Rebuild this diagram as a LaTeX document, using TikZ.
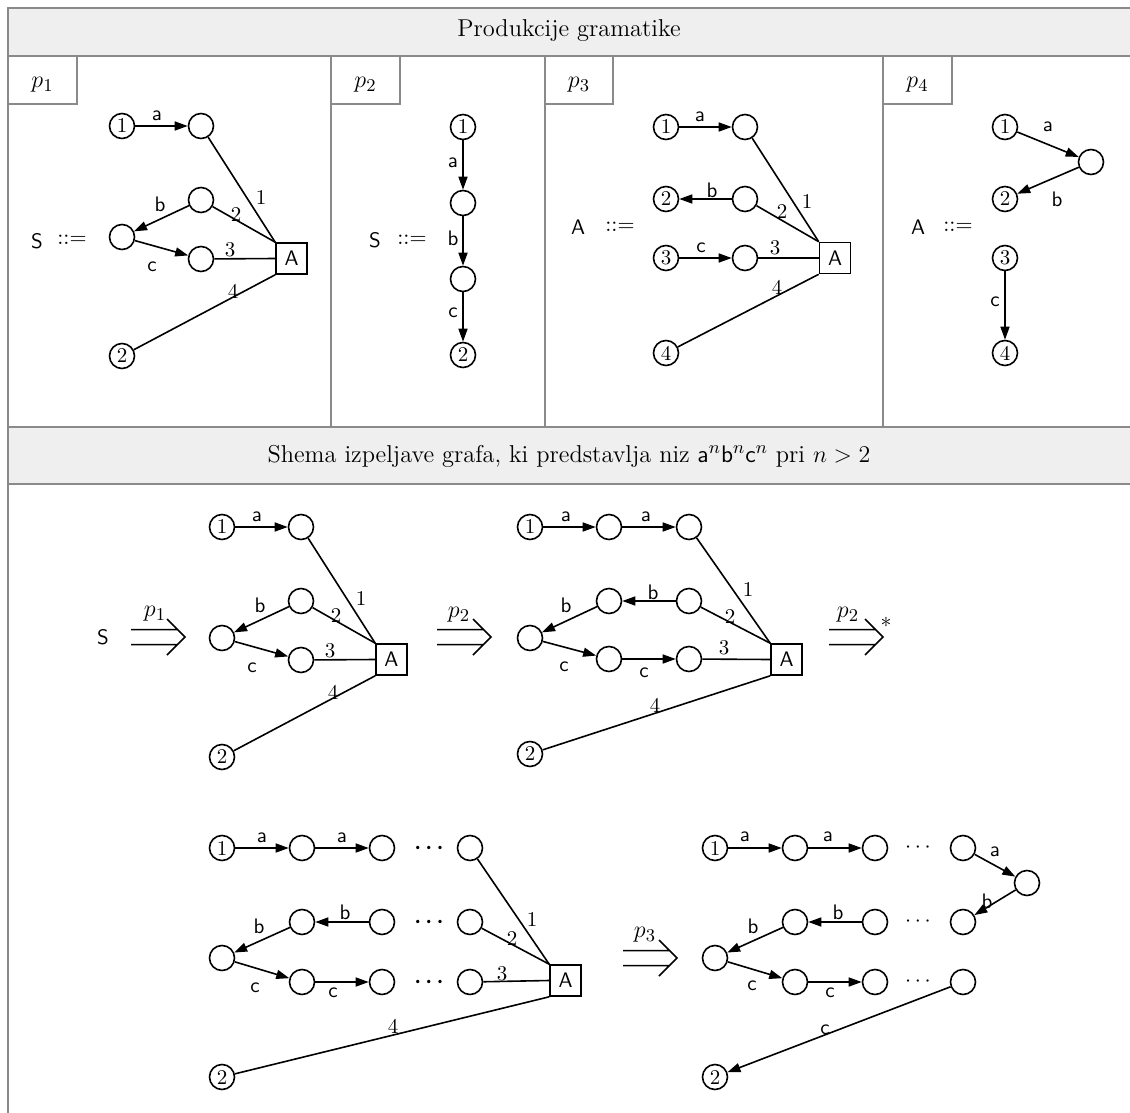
\documentclass[tikz,border=0pt]{standalone}
\usetikzlibrary{arrows.meta}
\definecolor{frm}{RGB}{138,138,138}
\definecolor{hdfill}{RGB}{239,239,239}
\newcommand\lab{\fontsize{10.5}{12}\selectfont}
\newcommand\headfont{\fontsize{12.2}{14}\selectfont}
\tikzset{
  v/.style={circle,draw,line width=0.8pt,minimum size=12.5pt,inner sep=0pt,font=\lab},
  box/.style={draw,line width=0.8pt,minimum size=15.5pt,inner sep=0pt,font=\lab\sffamily},
  arr/.style={line width=0.8pt,-{Triangle[length=6.5pt,width=4.5pt]}},
  ln/.style={line width=0.8pt},
  sl/.style={font=\lab\sffamily,inner sep=0pt},
  nl/.style={font=\lab,inner sep=0pt},
  bd/.style={font=\lab\boldmath,inner sep=0pt},
  fr/.style={draw=frm,line width=0.7pt},
  dbl/.style={line width=0.75pt,line join=miter},
  hd/.style={font=\headfont,inner sep=0pt}
}
\newcommand\dblarr[3]{\draw[dbl] (#1,#3-7.5) -- (#2-8,#3-7.5) (#1,#3+7.5) -- (#2-8,#3+7.5) (#2-18,#3-18) -- (#2,#3) -- (#2-18,#3+18);}
\begin{document}
\begin{tikzpicture}[x=0.5pt,y=-0.5pt]
\useasboundingbox (0,0) rectangle (1130,1113);
\clip (0,0) rectangle (1130,1113);
% ---------- frame ----------
\fill[hdfill] (8,8) rectangle (1140,56);
\fill[hdfill] (8,427) rectangle (1140,484);
\draw[fr] (8,8) rectangle (1140,1130);
\draw[fr] (8,56) -- (1140,56) (8,427) -- (1140,427) (8,484) -- (1140,484);
\draw[fr] (331,56) -- (331,427) (545,56) -- (545,427) (883,56) -- (883,427);
\draw[fr] (8,56) rectangle (77,104) (331,56) rectangle (400,104) (545,56) rectangle (613,104) (883,56) rectangle (952,104);
\node[hd] (h1) at (569,31) {Produkcije gramatike};
\node[hd] (h2) at (569,456) {Shema izpeljave grafa, ki predstavlja niz $\mathsf{a}^n\mathsf{b}^n\mathsf{c}^n$ pri $n>2$};
\node[hd] (t1) at (42.5,85) {$p_1$};
\node[hd] (t2) at (365.5,85) {$p_2$};
\node[hd] (t3) at (579,85) {$p_3$};
\node[hd] (t4) at (917.5,85) {$p_4$};
% ---------- p1 ----------
\node[sl] (s1) at (37,241) {S};
\node[nl] (e1) at (72,240) {$::=$};
\node[v] (a1) at (122,126) {1};
\node[v] (a2) at (201,126) {};
\node[v] (a3) at (201,200) {};
\node[v] (a4) at (122,237) {};
\node[v] (a5) at (201,259) {};
\node[box] (aA) at (291.5,258.5) {A};
\node[v] (a6) at (122,356) {2};
\draw[arr] (a1) -- (a2) node[sl] (la1) at (157,116) {a};
\draw[arr] (a3) -- (a4) node[sl] (la2) at (160,204) {b};
\draw[arr] (a4) -- (a5) node[sl] (la3) at (152,267) {c};
\draw[ln] (a2) -- (aA.north west) node[nl] (la4) at (261,198) {1};
\draw[ln] (a3) -- (aA.north west) node[nl] (la5) at (236,215) {2};
\draw[ln] (a5) -- (aA.west) node[nl] (la6) at (230,250) {3};
\draw[ln] (a6) -- (aA.south west) node[nl] (la7) at (233,291) {4};
% ---------- p2 ----------
\node[sl] (s2) at (375,240) {S};
\node[nl] (e2) at (412,240) {$::=$};
\node[v] (b1) at (463,127) {1};
\node[v] (b2) at (463,203) {};
\node[v] (b3) at (463,279) {};
\node[v] (b4) at (463,355) {2};
\draw[arr] (b1) -- (b2) node[sl] (lb1) at (453,163) {a};
\draw[arr] (b2) -- (b3) node[sl] (lb2) at (453,238) {b};
\draw[arr] (b3) -- (b4) node[sl] (lb3) at (453,313) {c};
% ---------- p3 ----------
\node[sl] (s3) at (578,227) {A};
\node[nl] (e3) at (620,227) {$::=$};
\node[v] (c1) at (666,127) {1};
\node[v] (c2) at (745,127) {};
\node[v] (c3) at (666,199) {2};
\node[v] (c4) at (745,199) {};
\node[v] (c5) at (666,258) {3};
\node[v] (c6) at (745,258) {};
\node[box] (cA) at (835,258) {A};
\node[v] (c7) at (666,353) {4};
\draw[arr] (c1) -- (c2) node[sl] (lc1) at (700,117) {a};
\draw[arr] (c4) -- (c3) node[sl] (lc2) at (712,190) {b};
\draw[arr] (c5) -- (c6) node[sl] (lc3) at (701,248) {c};
\draw[ln] (c2) -- (cA.north west) node[nl] (lc4) at (807,202) {1};
\draw[ln] (c4) -- (cA.north west) node[nl] (lc5) at (782,212) {2};
\draw[ln] (c6) -- (cA.west) node[nl] (lc6) at (775,248) {3};
\draw[ln] (c7) -- (cA.south west) node[nl] (lc7) at (777,287) {4};
% ---------- p4 ----------
\node[sl] (s4) at (918,227) {A};
\node[nl] (e4) at (958,227) {$::=$};
\node[v] (d1) at (1005,127) {1};
\node[v] (d2) at (1091,162) {};
\node[v] (d3) at (1005,199) {2};
\node[v] (d4) at (1005,258) {3};
\node[v] (d5) at (1005,353) {4};
\draw[arr] (d1) -- (d2) node[sl] (ld1) at (1048,127) {a};
\draw[arr] (d2) -- (d3) node[sl] (ld2) at (1057,199) {b};
\draw[arr] (d4) -- (d5) node[sl] (ld3) at (995,302) {c};
% ---------- derivation, row 1 ----------
\node[sl] (s5) at (103,637) {S};
\dblarr{131}{185}{637}
\node[hd] (q1) at (155,614) {$p_1$};
\node[v] (f1) at (222,527) {1};
\node[v] (f2) at (301,527) {};
\node[v] (f3) at (301,601) {};
\node[v] (f4) at (222,638) {};
\node[v] (f5) at (301,660) {};
\node[box] (fA) at (391.5,659.5) {A};
\node[v] (f6) at (222,757) {2};
\draw[arr] (f1) -- (f2) node[sl] (lf1) at (257,517) {a};
\draw[arr] (f3) -- (f4) node[sl] (lf2) at (260,605) {b};
\draw[arr] (f4) -- (f5) node[sl] (lf3) at (252,668) {c};
\draw[ln] (f2) -- (fA.north west) node[nl] (lf4) at (361,599) {1};
\draw[ln] (f3) -- (fA.north west) node[nl] (lf5) at (336,616) {2};
\draw[ln] (f5) -- (fA.west) node[nl] (lf6) at (330,651) {3};
\draw[ln] (f6) -- (fA.south west) node[nl] (lf7) at (333,692) {4};
\dblarr{437}{491}{637}
\node[hd] (q2) at (459,615) {$p_2$};
\node[v] (g1) at (530,527) {1};
\node[v] (g2) at (609,527) {};
\node[v] (g3) at (689,527) {};
\node[v] (g4) at (609,601) {};
\node[v] (g5) at (689,601) {};
\node[v] (g6) at (530,638) {};
\node[v] (g7) at (609,659) {};
\node[v] (g8) at (689,659) {};
\node[box] (gA) at (786.5,659.5) {A};
\node[v] (g9) at (530,754) {2};
\draw[arr] (g1) -- (g2) node[sl] (lg1) at (566,517) {a};
\draw[arr] (g2) -- (g3) node[sl] (lg2) at (646,517) {a};
\draw[arr] (g5) -- (g4) node[sl] (lg3) at (653,592) {b};
\draw[arr] (g4) -- (g6) node[sl] (lg4) at (566,605) {b};
\draw[arr] (g6) -- (g7) node[sl] (lg5) at (564,667) {c};
\draw[arr] (g7) -- (g8) node[sl] (lg6) at (644,673) {c};
\draw[ln] (g3) -- (gA.north west) node[nl] (lg7) at (748,590) {1};
\draw[ln] (g5) -- (gA.north west) node[nl] (lg8) at (730,617) {2};
\draw[ln] (g8) -- (gA.west) node[nl] (lg9) at (724,648) {3};
\draw[ln] (g9) -- (gA.south west) node[nl] (lg10) at (655,705) {4};
\dblarr{829}{883}{637}
\node[hd] (q3) at (848,615) {$p_2$};
\node[nl] (q4) at (886,622) {$*$};
% ---------- derivation, row 2 ----------
\node[v] (k1) at (222,848) {1};
\node[v] (k2) at (302,848) {};
\node[v] (k3) at (382,848) {};
\node[bd] (kd1) at (429,848) {$\cdots$};
\node[v] (k4) at (470,848) {};
\node[v] (k5) at (302,922) {};
\node[v] (k6) at (382,922) {};
\node[bd] (kd2) at (429,922) {$\cdots$};
\node[v] (k7) at (470,922) {};
\node[v] (k8) at (222,958) {};
\node[v] (k9) at (302,982) {};
\node[v] (k10) at (382,982) {};
\node[bd] (kd3) at (429,982) {$\cdots$};
\node[v] (k11) at (470,982) {};
\node[box] (kA) at (565.5,980.5) {A};
\node[v] (k12) at (222,1077) {2};
\draw[arr] (k1) -- (k2) node[sl] (lk1) at (262,838) {a};
\draw[arr] (k2) -- (k3) node[sl] (lk2) at (342,838) {a};
\draw[arr] (k6) -- (k5) node[sl] (lk3) at (345,912) {b};
\draw[arr] (k5) -- (k8) node[sl] (lk4) at (259,926) {b};
\draw[arr] (k8) -- (k9) node[sl] (lk5) at (255,988) {c};
\draw[arr] (k9) -- (k10) node[sl] (lk6) at (333,993) {c};
\draw[ln] (k4) -- (kA.north west) node[nl] (lk7) at (532,919) {1};
\draw[ln] (k7) -- (kA.north west) node[nl] (lk8) at (512,938) {2};
\draw[ln] (k11) -- (kA.west) node[nl] (lk9) at (502,974) {3};
\draw[ln] (k12) -- (kA.south west) node[nl] (lk10) at (393,1026) {4};
\dblarr{623}{677}{958}
\node[hd] (q5) at (645,935) {$p_3$};
\node[v] (m1) at (715,848) {1};
\node[v] (m2) at (795,848) {};
\node[v] (m3) at (875,848) {};
\node[nl] (md1) at (918,848) {$\cdots$};
\node[v] (m4) at (963,848) {};
\node[v] (m5) at (1027,883) {};
\node[v] (m6) at (795,922) {};
\node[v] (m7) at (875,922) {};
\node[nl] (md2) at (918,922) {$\cdots$};
\node[v] (m8) at (963,922) {};
\node[v] (m9) at (715,958) {};
\node[v] (m10) at (795,982) {};
\node[v] (m11) at (875,982) {};
\node[nl] (md3) at (918,982) {$\cdots$};
\node[v] (m12) at (963,982) {};
\node[v] (m13) at (715,1077) {2};
\draw[arr] (m1) -- (m2) node[sl] (lm1) at (745,837) {a};
\draw[arr] (m2) -- (m3) node[sl] (lm2) at (828,837) {a};
\draw[arr] (m4) -- (m5) node[sl] (lm3) at (995,852) {a};
\draw[arr] (m5) -- (m8) node[sl] (lm4) at (987,901) {b};
\draw[arr] (m7) -- (m6) node[sl] (lm5) at (838,912) {b};
\draw[arr] (m6) -- (m9) node[sl] (lm6) at (753,926) {b};
\draw[arr] (m9) -- (m10) node[sl] (lm7) at (752,986) {c};
\draw[arr] (m10) -- (m11) node[sl] (lm8) at (830,993) {c};
\draw[arr] (m12) -- (m13) node[sl] (lm9) at (825,1030) {c};
\end{tikzpicture}
\end{document}
